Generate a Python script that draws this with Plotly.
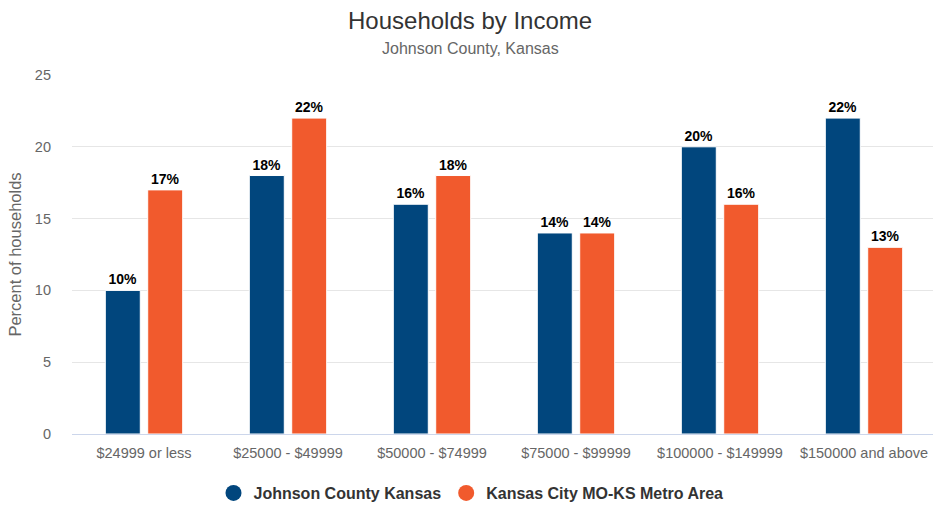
import plotly.graph_objects as go

categories = ["$24999 or less", "$25000 - $49999", "$50000 - $74999",
              "$75000 - $99999", "$100000 - $149999", "$150000 and above"]
johnson = [10, 18, 16, 14, 20, 22]
metro = [17, 22, 18, 14, 16, 13]
series_names = ["Johnson County Kansas", "Kansas City MO-KS Metro Area"]
colors = ["#01467D", "#F15A2D"]

FONT = "Liberation Sans, Arial"
W, H = 936, 506
ML, MR, MT, MB = 72, 0, 75, 72
PLOT_H = H - MT - MB
PLOT_W = W - ML - MR
CENTER_X = (470 - ML) / PLOT_W

fig = go.Figure()
for name, vals, col in zip(series_names, [johnson, metro], colors):
    fig.add_trace(go.Bar(
        x=categories, y=vals, name=name, showlegend=False, legendgroup=name,
        marker=dict(color=col, line=dict(color="#FFFFFF", width=1)),
        text=[f"{v}%" for v in vals], textposition="outside",
        textfont=dict(family=FONT, size=14, color="#000000"),
        texttemplate="<b>%{text}</b>", cliponaxis=False,
        hoverinfo="x+y",
    ))
# legend entries with circle symbols
for name, col in zip(series_names, colors):
    fig.add_trace(go.Scatter(
        x=[None], y=[None], mode="markers", name=name, legendgroup=name,
        marker=dict(symbol="circle", size=16, color=col),
    ))

fig.update_layout(
    width=W, height=H,
    margin=dict(l=ML, r=MR, t=MT, b=MB, autoexpand=False),
    paper_bgcolor="white", plot_bgcolor="white",
    barmode="group", bargap=0.411, bargroupgap=0.175,
    font=dict(family=FONT, color="#666666"),
    xaxis=dict(
        showgrid=False, showline=True, linecolor="#CCD6EB", linewidth=1,
        ticks="", tickfont=dict(size=14.5, color="#666666"), automargin=False,
        ticklabelstandoff=6,
    ),
    yaxis=dict(
        range=[0, 25], dtick=5, showgrid=True, gridcolor="#E6E6E6",
        zeroline=False, tickfont=dict(size=14.5, color="#666666"),
        title=dict(text="Percent of households", font=dict(size=16.5, color="#666666"), standoff=9),
        ticklabelstandoff=20, automargin=False,
    ),
    legend=dict(
        orientation="h", x=(471 - ML) / PLOT_W, xanchor="center", y=-59 / PLOT_H, yanchor="middle",
        font=dict(family=FONT, size=16, color="#333333", weight="bold"),
        itemsizing="trace", traceorder="normal", itemwidth=30,
    ),
    showlegend=True,
    annotations=[
        dict(text="Households by Income", x=CENTER_X, xref="paper", y=1 + 55 / PLOT_H, yref="paper",
             xanchor="center", yanchor="middle", showarrow=False,
             font=dict(family=FONT, size=24, color="#333333")),
        dict(text="Johnson County, Kansas", x=CENTER_X, xref="paper", y=1 + 27 / PLOT_H, yref="paper",
             xanchor="center", yanchor="middle", showarrow=False,
             font=dict(family=FONT, size=16, color="#666666")),
    ],
)

fig.write_html(
    "out.html",
    config={"displayModeBar": False},
    post_script="document.body.style.margin='0';document.body.style.overflow='hidden';",
)
